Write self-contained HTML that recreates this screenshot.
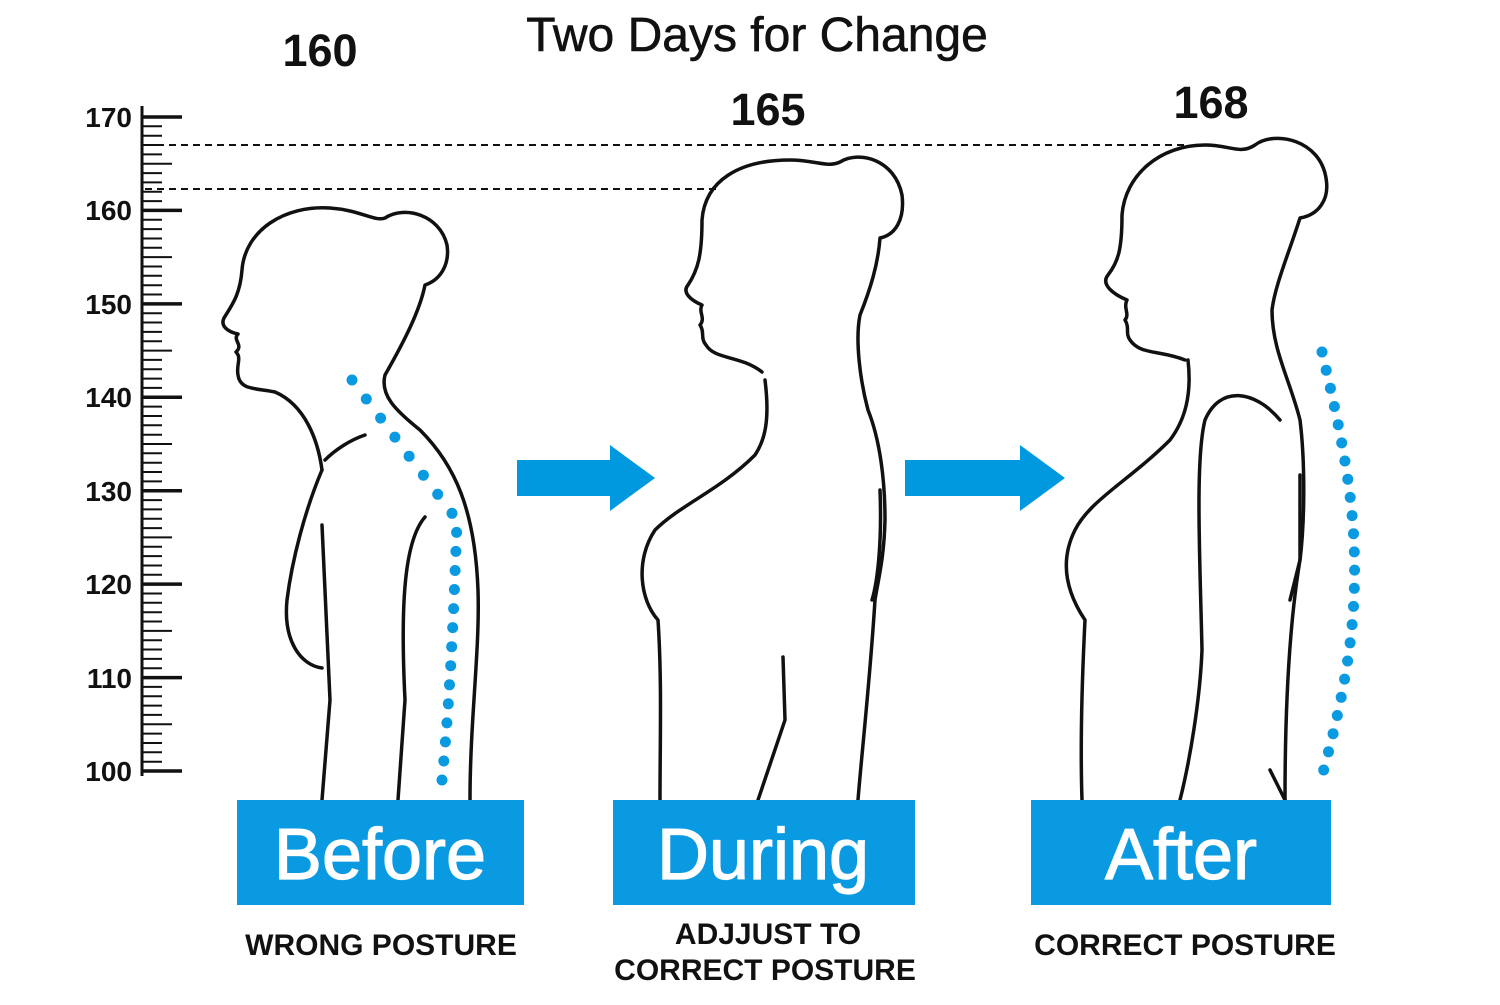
<!DOCTYPE html>
<html><head><meta charset="utf-8"><style>
html,body{margin:0;padding:0;background:#fff;}
body{width:1500px;height:1000px;overflow:hidden;}
</style></head><body>
<svg width="1500" height="1000" viewBox="0 0 1500 1000" xmlns="http://www.w3.org/2000/svg" font-family="Liberation Sans, sans-serif">
<rect width="1500" height="1000" fill="#fff"/>
<text x="757" y="51" font-size="48" text-anchor="middle" fill="#111" stroke="#111" stroke-width="0.6">Two Days for Change</text>
<text x="320" y="66" font-size="45" font-weight="bold" text-anchor="middle" fill="#111">160</text>
<text x="768" y="125" font-size="45" font-weight="bold" text-anchor="middle" fill="#111">165</text>
<text x="1211" y="118" font-size="45" font-weight="bold" text-anchor="middle" fill="#111">168</text>

<!-- ruler -->
<g stroke="#111" stroke-width="3">
<line x1="142" y1="106" x2="142" y2="776"/>
<g id="ticks"></g>
</g>
<g font-size="28" font-weight="bold" fill="#111" text-anchor="end">
<text x="132" y="127">170</text><text x="132" y="220">160</text><text x="132" y="314">150</text>
<text x="132" y="407">140</text><text x="132" y="501">130</text><text x="132" y="594">120</text>
<text x="132" y="688">110</text><text x="132" y="781">100</text>
</g>
<g stroke="#111" stroke-width="2" stroke-dasharray="7,5">
<line x1="145" y1="145" x2="1185" y2="145"/>
<line x1="145" y1="189" x2="720" y2="189"/>
</g>

<!-- figures -->
<g fill="none" stroke="#111" stroke-width="3.5" stroke-linecap="round" stroke-linejoin="round">
<path d="M322 470 C318 440 305 405 275 392 C255 388 240 390 238 375 C236 365 242 358 236 352 C244 345 232 340 238 334 C228 332 220 326 224 318 C232 305 240 295 242 270 C245 230 285 205 330 208 C360 210 375 222 385 218 C405 205 440 215 447 245 C450 265 440 280 425 285 C420 310 405 340 385 375 C380 395 395 410 420 430 C455 465 475 510 478 590 C480 650 470 720 470 800"/>
<path d="M322 470 C305 510 292 560 287 600 C283 640 300 665 322 668"/>
<path d="M322 525 L330 700 L322 800"/>
<path d="M425 517 C405 540 400 600 405 700 L398 800"/>
<path d="M365 435 C350 440 335 450 325 460"/>
<path d="M762 372 C740 355 715 360 706 345 C700 338 705 332 700 325 C706 318 698 312 702 305 C690 300 682 292 688 285 C698 270 702 255 702 220 C705 180 740 160 790 160 C815 160 828 168 840 162 C860 150 895 160 902 195 C905 220 895 235 880 238 C878 265 870 290 860 315 C855 340 860 380 868 410 C880 440 885 480 885 520 C884 560 878 580 875 600 C870 680 862 750 858 800"/>
<path d="M765 380 C770 420 765 440 755 455 C720 490 680 505 655 530 C635 560 640 600 658 620 C662 680 660 740 660 800"/>
<path d="M880 490 C882 540 878 580 872 600"/>
<path d="M783 657 L785 720 L758 800"/>
<path d="M1185 360 C1160 350 1140 355 1130 340 C1125 333 1130 328 1125 320 C1130 314 1123 308 1127 300 C1115 295 1100 285 1108 275 C1118 262 1122 250 1122 215 C1125 175 1160 145 1205 145 C1230 145 1240 155 1255 145 C1275 130 1320 140 1326 178 C1330 200 1318 215 1300 218 C1290 250 1275 285 1272 310 C1272 350 1290 380 1300 420 C1305 460 1305 520 1300 560 C1290 620 1285 700 1285 800"/>
<path d="M1188 360 C1192 395 1185 420 1170 440 C1130 480 1090 500 1075 530 C1060 560 1065 590 1085 620 C1082 680 1080 740 1082 800"/>
<path d="M1300 475 L1300 560 L1290 600"/>
<path d="M1280 420 C1255 390 1220 385 1205 420 C1195 460 1200 560 1202 650 C1200 700 1190 760 1180 800"/>
<path d="M1270 770 L1285 800"/>
</g>

<g fill="#0a9ae2">
<g id="d1"></g><g id="d2"></g>
</g>

<g fill="#0099e0">
<rect x="517" y="460" width="96" height="36"/>
<polygon points="610,445 655,478 610,511"/>
<rect x="905" y="460" width="118" height="36"/>
<polygon points="1020,445 1065,478 1020,511"/>
</g>

<g fill="#0a9ae2">
<rect x="237" y="800" width="287" height="105"/>
<rect x="613" y="800" width="302" height="105"/>
<rect x="1031" y="800" width="300" height="105"/>
</g>
<g fill="#fff" stroke="#fff" stroke-width="1.2" font-size="72" text-anchor="middle">
<text x="380" y="879">Before</text>
<text x="763" y="879">During</text>
<text x="1181" y="879">After</text>
</g>
<g fill="#111" font-size="30" font-weight="bold" text-anchor="middle">
<text x="381" y="955">WRONG POSTURE</text>
<text x="768" y="944">ADJJUST TO</text>
<text x="765" y="980">CORRECT POSTURE</text>
<text x="1185" y="955">CORRECT POSTURE</text>
</g>
</svg>
<script>
var t=document.getElementById('ticks'),s='';
for(var i=0;i<=70;i++){var y=117+i*654/70;var l=(i%10==0)?40:(i%5==0?30:20);
s+='<line x1="142" y1="'+y.toFixed(1)+'" x2="'+(142+l)+'" y2="'+y.toFixed(1)+'" stroke-width="'+(i%10==0?3.5:2)+'"/>';}
t.innerHTML=s;
function dots(id,pts){var o='';for(var k=0;k<pts.length;k++)o+='<circle cx="'+pts[k][0]+'" cy="'+pts[k][1]+'" r="5.5"/>';document.getElementById(id).innerHTML=o;}
var a=[],n=22;
for(var k=0;k<n;k++){var u=k/(n-1);var y=380+u*400;
var x=352+ (u<0.35? u/0.35*105 : 105+Math.sin((u-0.35)/0.65*Math.PI*0.5)*10 - (u-0.35)/0.65*25);a.push([x.toFixed(1),y.toFixed(1)]);}
dots('d1',a);
var b=[];n=24;
for(var k=0;k<n;k++){var u=k/(n-1);var y=352+u*418;var x=1322+Math.sin(u*Math.PI*0.9)*38-u*10;b.push([x.toFixed(1),y.toFixed(1)]);}
dots('d2',b);
</script>
</body></html>
